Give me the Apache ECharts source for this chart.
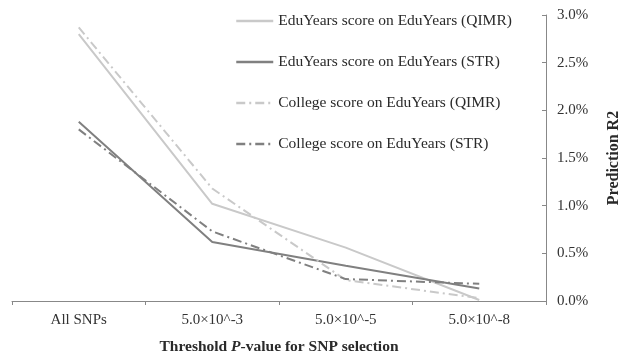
<!DOCTYPE html>
<html><head><meta charset="utf-8">
<script src="https://cdn.jsdelivr.net/npm/echarts@6/dist/echarts.min.js"></script>
<style>html,body{margin:0;padding:0;background:#fff}#c{width:621px;height:358px}</style>
</head><body><div id="c"></div>
<script>
const categories = ['All SNPs', '5.0×10^-3', '5.0×10^-5', '5.0×10^-8'];
const seriesNames = ['EduYears score on EduYears (QIMR)', 'EduYears score on EduYears (STR)', 'College score on EduYears (QIMR)', 'College score on EduYears (STR)'];
const eduQIMR = [2.80, 1.02, 0.56, 0.01];
const eduSTR = [1.88, 0.62, 0.37, 0.13];
const colQIMR = [2.87, 1.18, 0.22, 0.03];
const colSTR = [1.80, 0.73, 0.23, 0.18];

const light = '#c9c9c9', dark = '#808080';
const dashDot = [9, 4, 2, 4];
const font = '"Liberation Serif", "Times New Roman", serif';
const chart = echarts.init(document.getElementById('c'));
const mk = (name, data, color, type) => ({
  name, type: 'line', data, symbol: 'none', smooth: false,
  lineStyle: { color, width: 2, type }, itemStyle: { color }
});
chart.setOption({
  animation: false,
  textStyle: { fontFamily: font },
  grid: { left: 12, right: 75, top: 15, bottom: 57, outerBoundsMode: 'none', containLabel: false },
  legend: {
    orient: 'vertical', left: 230, top: 8, itemGap: 25, itemWidth: 37, itemHeight: 14,
    itemStyle: { opacity: 0 },
    lineStyle: { width: 2.5 },
    textStyle: { fontFamily: font, fontSize: 15.5, color: '#2a2a2a' },
    data: seriesNames
  },
  xAxis: {
    type: 'category', data: categories, boundaryGap: true,
    axisLine: { lineStyle: { color: '#888', width: 1 } },
    axisTick: { show: true, length: 4, lineStyle: { color: '#888' } },
    axisLabel: { fontFamily: font, fontSize: 15, color: '#333', margin: 12 },
    name: '{b|Threshold }{i|P}{b|-value for SNP selection}',
    nameLocation: 'middle', nameGap: 38,
    nameTextStyle: { rich: {
      b: { fontFamily: font, fontSize: 15.5, fontWeight: 'bold', color: '#2a2a2a' },
      i: { fontFamily: font, fontSize: 15.5, fontWeight: 'bold', fontStyle: 'italic', color: '#2a2a2a' }
    } }
  },
  yAxis: {
    type: 'value', position: 'right', min: 0, max: 3, interval: 0.5,
    axisLine: { show: true, lineStyle: { color: '#888', width: 1 } },
    axisTick: { show: true, inside: true, length: 4, lineStyle: { color: '#888' } },
    splitLine: { show: false },
    axisLabel: { fontFamily: font, fontSize: 15, color: '#333', margin: 11,
      formatter: v => v.toFixed(1) + '%' },
    name: 'Prediction R2', nameLocation: 'middle', nameGap: 60, nameRotate: 90,
    nameTextStyle: { fontFamily: font, fontSize: 16, fontWeight: 'bold', color: '#2a2a2a' }
  },
  series: [
    mk(seriesNames[0], eduQIMR, light, 'solid'),
    mk(seriesNames[1], eduSTR, dark, 'solid'),
    mk(seriesNames[2], colQIMR, light, dashDot),
    mk(seriesNames[3], colSTR, dark, dashDot)
  ]
});
</script></body></html>
